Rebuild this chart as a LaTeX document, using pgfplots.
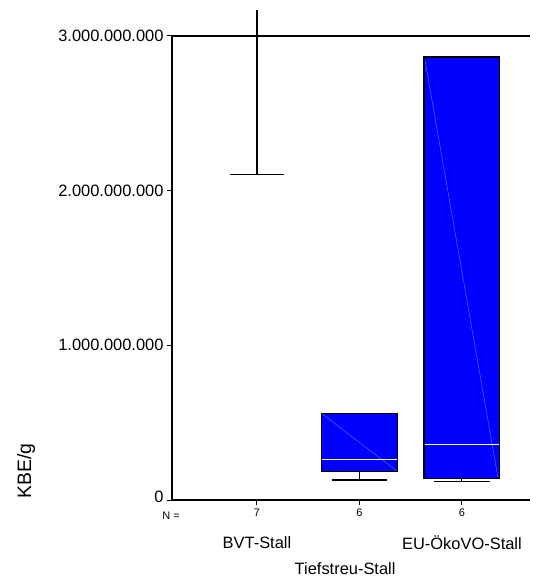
\documentclass[border=0pt]{standalone}
\usepackage{pgfplots}
\pgfplotsset{compat=1.18}
\usepackage{fontspec}
\setmainfont{Liberation Sans}
\definecolor{boxblue}{RGB}{0,0,255}
\definecolor{seam}{RGB}{100,120,255}
\begin{document}
\begin{tikzpicture}
\begin{axis}[
  at={(172bp,77bp)}, anchor=south west,
  scale only axis, width=358bp, height=464bp,
  xmin=0.171, xmax=3.664, ymin=0, ymax=3e9,
  clip=false,
  axis x line*=bottom, axis y line*=left,
  axis line style={line width=1.3bp, -},
  xtick={1,2,3}, xticklabels={7,6,6},
  ytick={0,1e9,2e9,3e9},
  yticklabels={\raisebox{7bp}{0},1.000.000.000,2.000.000.000,3.000.000.000},
  scaled y ticks=false,
  tick align=outside, major tick length=5bp,
  tick style={black, line width=1bp},
  xticklabel style={font=\fontsize{11}{13}\selectfont},
  yticklabel style={font=\fontsize{16.5}{19}\selectfont},
]
% BVT-Stall: only the lower whisker is inside the range
\addplot[black, line width=1.1bp] coordinates {(1,2.106e9) (1,3.17e9)};
\addplot[black, line width=1.1bp] coordinates {(0.735,2.106e9) (1.265,2.106e9)};
% line at 3.000.000.000
\addplot[black, line width=1.1bp] coordinates {(0.171,3e9) (3.664,3e9)};
% box 2
\addplot[black, line width=1.1bp] coordinates {(2,0.129e9) (2,0.187e9)};
\addplot[black, line width=1.1bp] coordinates {(1.73,0.129e9) (2.27,0.129e9)};
\addplot[draw=black, line width=1.1bp, fill=boxblue] coordinates {(1.63,0.187e9) (2.37,0.187e9) (2.37,0.562e9) (1.63,0.562e9)} -- cycle;
\addplot[seam, line width=0.4bp] coordinates {(1.64,0.555e9) (2.36,0.19e9)};
\addplot[white, line width=1.1bp] coordinates {(1.635,0.261e9) (2.365,0.261e9)};
% box 3
\addplot[black, line width=1.1bp] coordinates {(3,0.121e9) (3,0.140e9)};
\addplot[black, line width=1.1bp] coordinates {(2.73,0.121e9) (3.27,0.121e9)};
\addplot[draw=black, line width=1.1bp, fill=boxblue] coordinates {(2.63,0.140e9) (3.37,0.140e9) (3.37,2.864e9) (2.63,2.864e9)} -- cycle;
\addplot[seam, line width=0.4bp] coordinates {(2.64,2.84e9) (3.35,0.15e9)};
\addplot[white, line width=1.1bp] coordinates {(2.635,0.36e9) (3.365,0.36e9)};
% labels
\node[font=\fontsize{11}{13}\selectfont] at ([xshift=-1bp,yshift=-16bp]axis cs:0.171,0) {N =};
\node[font=\fontsize{16.5}{19}\selectfont] at ([yshift=-43bp]axis cs:1,0) {BVT-Stall};
\node[font=\fontsize{16.5}{19}\selectfont] at ([yshift=-43bp]axis cs:3,0) {EU-ÖkoVO-Stall};
\node[font=\fontsize{16.5}{19}\selectfont, inner sep=0pt] at ([yshift=-69bp]axis cs:1.86,0) {Tiefstreu-Stall};
\node[rotate=90, font=\fontsize{19.5}{22}\selectfont] at ([xshift=-146bp,yshift=29bp]axis cs:0.171,0) {KBE/g};
\end{axis}
\pgfresetboundingbox
\path[use as bounding box] (0,0) rectangle (542bp,577bp);
\end{tikzpicture}
\end{document}
